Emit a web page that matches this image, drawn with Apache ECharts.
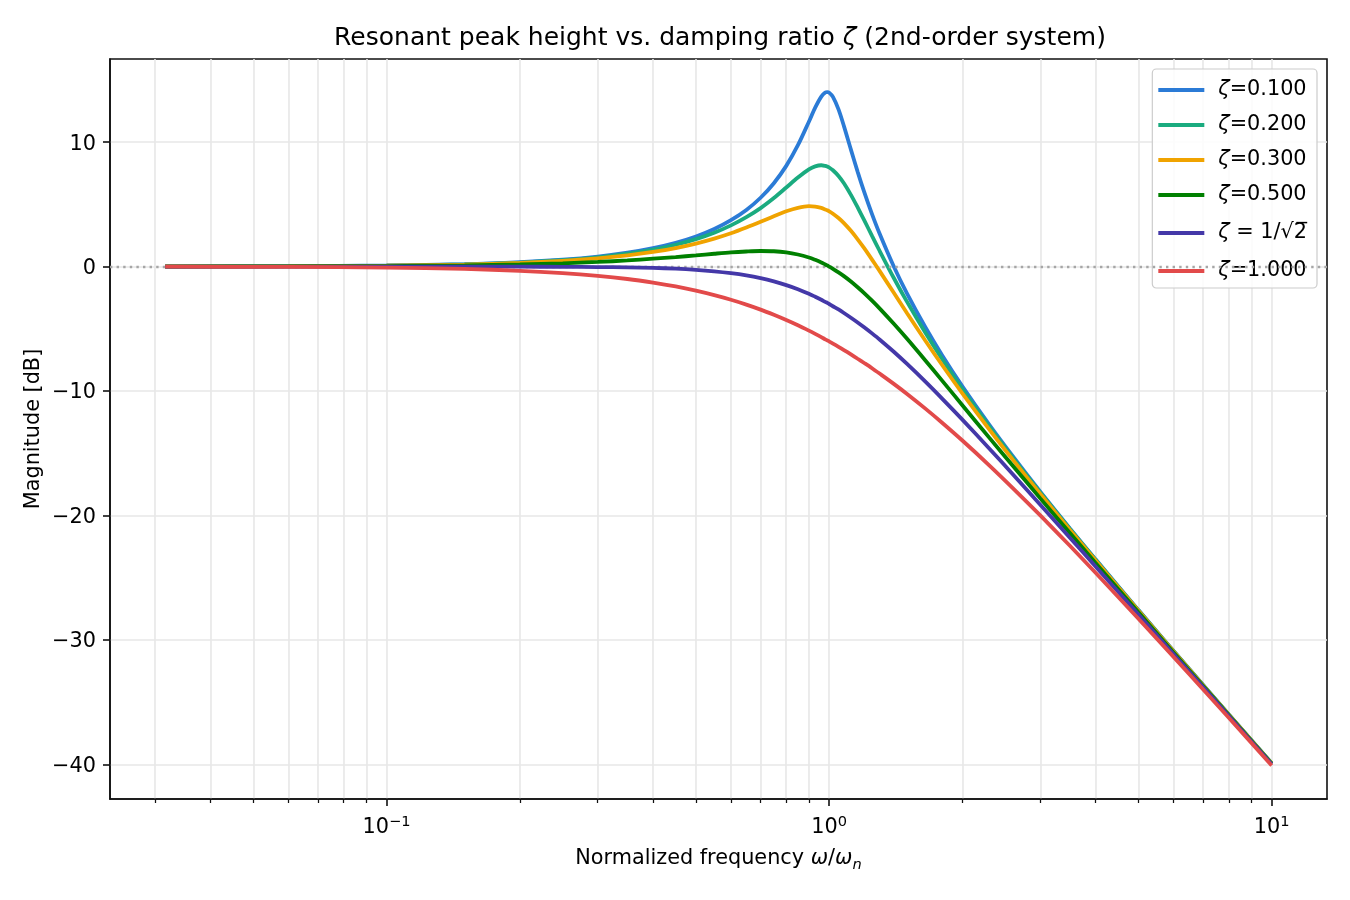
<!DOCTYPE html>
<html>
<head>
<meta charset="utf-8">
<title>Resonant peak height vs. damping ratio</title>
<script src="https://cdn.jsdelivr.net/npm/echarts@6/dist/echarts.min.js"></script>
<style>
  html, body { margin: 0; padding: 0; background: #fff; }
  #chart { width: 1350px; height: 900px; }
</style>
</head>
<body>
<div id="chart"></div>
<script>
// normalized frequency w/wn where the curves were read
const freq = [0.0316, 0.06, 0.1, 0.15, 0.2, 0.25, 0.3, 0.35, 0.4, 0.45, 0.5, 0.55, 0.6, 0.65, 0.7, 0.75,
  0.8, 0.85, 0.9, 0.93, 0.96, 0.98, 0.99, 1.0, 1.02, 1.05, 1.08, 1.12, 1.16, 1.2, 1.25, 1.3, 1.4, 1.5, 1.65,
  1.8, 2.0, 2.3, 2.6, 3.0, 3.5, 4.0, 5.0, 6.5, 8.0, 10.0];

// magnitude in dB for each damping ratio
const magZeta010 = [0.01, 0.03, 0.09, 0.19, 0.35, 0.55, 0.80, 1.11, 1.48, 1.91, 2.42, 3.02, 3.73, 4.55, 5.53, 6.70,
  8.09, 9.75, 11.64, 12.77, 13.66, 13.98, 14.02, 13.98, 13.64, 12.63, 11.29, 9.40, 7.61, 6.00, 4.21, 2.65, 0.00, -2.18, -4.88,
  -7.12, -9.62, -12.70, -15.24, -18.09, -21.04, -23.53, -27.61, -32.31, -35.99, -39.91];
const magZeta020 = [0.01, 0.03, 0.08, 0.18, 0.32, 0.51, 0.74, 1.03, 1.36, 1.75, 2.20, 2.72, 3.31, 3.97, 4.70, 5.51,
  6.35, 7.15, 7.81, 8.05, 8.14, 8.09, 8.04, 7.96, 7.74, 7.28, 6.69, 5.76, 4.75, 3.73, 2.47, 1.27, -0.92, -2.84, -5.32,
  -7.43, -9.84, -12.84, -15.35, -18.16, -21.09, -23.57, -27.63, -32.33, -36.00, -39.92];
const magZeta030 = [0.01, 0.03, 0.07, 0.16, 0.29, 0.45, 0.65, 0.89, 1.17, 1.49, 1.85, 2.25, 2.68, 3.14, 3.60, 4.05,
  4.44, 4.72, 4.85, 4.82, 4.71, 4.59, 4.52, 4.44, 4.25, 3.90, 3.49, 2.87, 2.19, 1.48, 0.56, -0.35, -2.11, -3.75, -5.96,
  -7.91, -10.19, -13.08, -15.52, -18.28, -21.17, -23.63, -27.67, -32.35, -36.01, -39.93];
const magZeta050 = [0.00, 0.02, 0.04, 0.10, 0.17, 0.26, 0.37, 0.49, 0.63, 0.76, 0.90, 1.03, 1.14, 1.21, 1.25, 1.23,
  1.14, 0.97, 0.73, 0.54, 0.33, 0.17, 0.09, 0.00, -0.18, -0.47, -0.77, -1.20, -1.66, -2.13, -2.74, -3.36, -4.60, -5.81, -7.55,
  -9.17, -11.14, -13.75, -16.01, -18.63, -21.42, -23.82, -27.79, -32.42, -36.06, -39.96];
const magZeta071 = [0.00, 0.00, 0.00, 0.00, -0.01, -0.02, -0.04, -0.06, -0.11, -0.17, -0.26, -0.38, -0.53, -0.71, -0.93, -1.19,
  -1.49, -1.82, -2.19, -2.43, -2.67, -2.84, -2.92, -3.01, -3.19, -3.45, -3.73, -4.11, -4.49, -4.88, -5.37, -5.86, -6.85, -7.83, -9.25,
  -10.61, -12.30, -14.62, -16.69, -19.14, -21.79, -24.10, -27.97, -32.52, -36.12, -40.00];
const magZeta100 = [-0.01, -0.03, -0.09, -0.19, -0.34, -0.53, -0.75, -1.00, -1.29, -1.60, -1.94, -2.30, -2.67, -3.06, -3.46, -3.88,
  -4.30, -4.72, -5.15, -5.41, -5.67, -5.85, -5.93, -6.02, -6.19, -6.45, -6.71, -7.06, -7.41, -7.75, -8.17, -8.60, -9.43, -10.24, -11.42,
  -12.55, -13.98, -15.97, -17.80, -20.00, -22.44, -24.61, -28.30, -32.72, -36.26, -40.09];

const seriesNames = ["ζ=0.100", "ζ=0.200", "ζ=0.300", "ζ=0.500", "ζ = 1/√2", "ζ=1.000"];
const seriesValues = [magZeta010, magZeta020, magZeta030, magZeta050, magZeta071, magZeta100];
const seriesColors = ["#2b7bd6", "#1aab7f", "#f0a300", "#008000", "#4438a8", "#e24a4a"];

// tick positions (frequency) and y ticks (dB)
const xMajorTicks = [0.1, 1, 10];
const xMinorTicks = [0.03, 0.04, 0.05, 0.06, 0.07, 0.08, 0.09, 0.2, 0.3, 0.4, 0.5, 0.6, 0.7, 0.8, 0.9,
  2, 3, 4, 5, 6, 7, 8, 9];
const yTicks = [-40, -30, -20, -10, 0, 10];

const FONT = '"DejaVu Sans", sans-serif';
const GRID_COLOR = "#e7e7e7";
const X_MIN = -1.625, X_MAX = 1.125;   // log10 limits
const Y_MIN = -42.79, Y_MAX = 16.68;

const lg = (v) => Math.round(Math.log10(v) * 1e6) / 1e6;
const minus = (v) => (v < 0 ? "\u2212" + Math.abs(v) : String(v));

const chart = echarts.init(document.getElementById("chart"));

const lineSeries = seriesNames.map((name, k) => ({
  name: name,
  type: "line",
  xAxisIndex: 0,
  yAxisIndex: 0,
  data: freq.map((f, i) => [Math.log10(f), seriesValues[k][i]]),
  symbol: "none",
  smooth: 0.3,
  z: 3 + k,
  lineStyle: { color: seriesColors[k], width: 3.8 },
  itemStyle: { color: seriesColors[k] },
}));

chart.setOption({
  animation: false,
  backgroundColor: "#fff",
  textStyle: { fontFamily: FONT },
  title: {
    text: "Resonant peak height vs. damping ratio {i|ζ} (2nd-order system)",
    left: 715,
    top: 21,
    textAlign: "center",
    textStyle: {
      fontFamily: FONT,
      fontSize: 25,
      fontWeight: "normal",
      color: "#000",
      rich: { i: { fontFamily: FONT, fontSize: 25, fontStyle: "italic", color: "#000" } },
    },
  },
  grid: {
    left: 110,
    right: 23,
    top: 59,
    bottom: 101,
    show: true,
    borderColor: "#111",
    borderWidth: 1.6,
    containLabel: false,
    outerBoundsMode: "none",
  },
  legend: {
    data: seriesNames,
    orient: "vertical",
    right: 33,
    top: 69,
    padding: [9, 10, 5, 6],
    icon: "path://M0,0H46V4H0ZM55,4",
    itemWidth: 55,
    itemHeight: 14,
    itemGap: 11,
    backgroundColor: "rgba(255,255,255,0.85)",
    borderColor: "#cccccc",
    borderWidth: 1.2,
    borderRadius: 4,
    textStyle: {
      fontFamily: FONT,
      fontSize: 20.8,
      color: "#000",
      lineHeight: 24,
      rich: {
        z: { fontFamily: FONT, fontSize: 20.8, fontStyle: "italic", color: "#000", lineHeight: 24 },
        t: { fontFamily: FONT, fontSize: 20.8, color: "#000", lineHeight: 24 },
        r: { fontFamily: FONT, fontSize: 20.8, color: "#000", lineHeight: 30 },
      },
    },
    formatter: function (name) {
      if (name.indexOf("√") >= 0) return "{z|ζ}{r| = 1/√2\u0305}";
      return "{z|ζ}{t|" + name.slice(1) + "}";
    },
  },
  xAxis: [
    {
      type: "value",
      min: X_MIN,
      max: X_MAX,
      position: "bottom",
      name: "Normalized frequency {i|ω}/{i|ω}{s|n}",
      nameLocation: "middle",
      nameGap: 46,
      nameMoveOverlap: false,
      nameTextStyle: {
        fontFamily: FONT,
        fontSize: 20.8,
        color: "#000",
        lineHeight: 28,
        rich: {
          i: { fontFamily: FONT, fontSize: 20.8, fontStyle: "italic", color: "#000", lineHeight: 28 },
          s: { fontFamily: FONT, fontSize: 14.6, fontStyle: "italic", color: "#000", verticalAlign: "bottom", lineHeight: 28 },
        },
      },
      axisLine: { show: true, onZero: false, lineStyle: { color: "#111", width: 1.6 } },
      axisTick: { show: true, length: 7, customValues: xMajorTicks.map(lg), lineStyle: { color: "#111", width: 1.6 } },
      axisLabel: {
        show: true,
        margin: 16,
        customValues: xMajorTicks.map(lg),
        formatter: function (v) {
          const e = Math.round(v);
          return "{b|10}{s|" + minus(e) + "}";
        },
        rich: {
          b: { fontFamily: FONT, fontSize: 20.8, color: "#000", lineHeight: 25 },
          s: { fontFamily: FONT, fontSize: 14.6, color: "#000", verticalAlign: "top", lineHeight: 25 },
        },
      },
      splitLine: { show: true, lineStyle: { color: GRID_COLOR, width: 1.6 } },
    },
    {
      type: "value",
      min: X_MIN,
      max: X_MAX,
      position: "bottom",
      axisLine: { show: false, onZero: false },
      axisTick: { show: true, length: 4, customValues: xMinorTicks.map(lg), lineStyle: { color: "#111", width: 1.25 } },
      axisLabel: { show: false, customValues: xMinorTicks.map(lg) },
      splitLine: { show: true, lineStyle: { color: GRID_COLOR, width: 1.6 } },
    },
  ],
  yAxis: {
    type: "value",
    min: Y_MIN,
    max: Y_MAX,
    name: "Magnitude [dB]",
    nameLocation: "middle",
    nameGap: 66,
    nameMoveOverlap: false,
    nameTextStyle: { fontFamily: FONT, fontSize: 20.8, color: "#000" },
    axisLine: { show: true, onZero: false, lineStyle: { color: "#111", width: 1.6 } },
    axisTick: { show: true, length: 7, customValues: yTicks, lineStyle: { color: "#111", width: 1.6 } },
    axisLabel: {
      margin: 14,
      customValues: yTicks,
      formatter: function (v) { return "{n|" + minus(v) + "}"; },
      rich: {
        n: { fontFamily: FONT, fontSize: 20.8, color: "#000", padding: [4, 0, 0, 0] },
      },
    },
    splitLine: { show: true, lineStyle: { color: GRID_COLOR, width: 1.6 } },
  },
  series: [
    {
      name: "zero",
      type: "line",
      data: [],
      z: 2,
      markLine: {
        silent: true,
        symbol: "none",
        label: { show: false },
        lineStyle: { color: "#a6a6a6", width: 2.4, type: [2.4, 4.2] },
        data: [{ yAxis: 0 }],
      },
    },
  ].concat(lineSeries),
});
</script>
</body>
</html>
